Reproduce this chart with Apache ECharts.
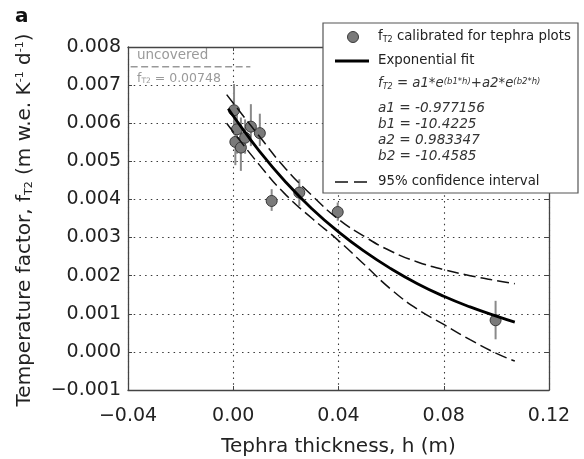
<!DOCTYPE html>
<html><head><meta charset="utf-8">
<script src="https://cdn.jsdelivr.net/npm/echarts@6/dist/echarts.min.js"></script>
<style>html,body{margin:0;padding:0;background:#fff}#c{width:584px;height:459px}</style>
</head><body><div id="c"></div>
<script>
// ---- data ----
const xTicks = [-0.04, 0.00, 0.04, 0.08, 0.12];
const yTicks = [-0.001, 0.000, 0.001, 0.002, 0.003, 0.004, 0.005, 0.006, 0.007, 0.008];

const pointH = [0.0003, 0.0008, 0.0014, 0.0029, 0.0045, 0.0067, 0.0101, 0.0146, 0.0251, 0.0397, 0.0997];
const pointV = [0.00634, 0.00551, 0.00584, 0.00536, 0.00562, 0.00591, 0.00574, 0.00396, 0.00418, 0.00367, 0.00083];
const errLow = [0.00570, 0.00490, 0.00520, 0.00475, 0.00520, 0.00540, 0.00540, 0.00370, 0.00383, 0.00344, 0.00033];
const errHigh = [0.00703, 0.00625, 0.00640, 0.00615, 0.00610, 0.00650, 0.00625, 0.00427, 0.00453, 0.00392, 0.00134];

const fitH = [-0.0019, 0.00, 0.01, 0.02, 0.03, 0.04, 0.05, 0.06, 0.07, 0.08, 0.09, 0.10, 0.107];
const fitV = [0.00638, 0.00619, 0.00526, 0.00445, 0.00375, 0.00315, 0.00263, 0.00218, 0.00179, 0.00146, 0.00118, 0.00094, 0.00078];

const bandH = [-0.0025, 0.01, 0.02, 0.03, 0.04, 0.05, 0.06, 0.07, 0.08, 0.09, 0.10, 0.107];
const upperV = [0.00675, 0.00565, 0.00480, 0.00410, 0.00348, 0.00302, 0.00264, 0.00236, 0.00216, 0.00200, 0.00187, 0.00179];
const lowerV = [0.00600, 0.00490, 0.00412, 0.00350, 0.00292, 0.00228, 0.00164, 0.00112, 0.00072, 0.00032, -0.00004, -0.00024];

const uncoveredH = [-0.039, 0.0065];
const uncoveredValue = 0.00748;

// ---- build ----
const FONT = 'DejaVu Sans';
const zip = (a, b) => a.map((v, i) => [v, b[i]]);
const minus = s => s.replace('-', '\u2212');

const chart = echarts.init(document.getElementById('c'), null, {renderer: 'canvas'});

function rs(size, extra) {
  return Object.assign({fontSize: size, fontFamily: FONT, fill: '#222', color: '#222'}, extra || {});
}

const gridLine = {show: true, lineStyle: {color: '#3a3a3a', width: 1.1, type: [1.5, 4.2]}};
const LG = 13.3;

const option = {
  animation: false,
  backgroundColor: '#fff',
  grid: {left: 128, right: 35, top: 47, bottom: 69, show: false, containLabel: false, outerBoundsMode: 'none'},
  xAxis: [{
    type: 'value', min: xTicks[0], max: xTicks[xTicks.length - 1], interval: 0.04,
    axisLine: {onZero: false, lineStyle: {color: '#444', width: 1.3}},
    axisTick: {inside: true, length: 4, lineStyle: {color: '#444'}},
    axisLabel: {fontFamily: FONT, fontSize: 19, color: '#222', margin: 17,
      formatter: v => minus(v.toFixed(2))},
    splitLine: gridLine,
    name: 'Tephra thickness, h (m)', nameLocation: 'middle', nameGap: 47,
    nameTextStyle: {fontFamily: FONT, fontSize: 20, color: '#222'}
  }, {
    type: 'value', position: 'top', min: xTicks[0], max: xTicks[xTicks.length - 1], interval: 0.04,
    axisLine: {onZero: false, lineStyle: {color: '#444', width: 1.3}},
    axisTick: {inside: true, length: 4, lineStyle: {color: '#444'}},
    axisLabel: {show: false}, splitLine: {show: false}
  }],
  yAxis: [{
    type: 'value', min: yTicks[0], max: yTicks[yTicks.length - 1], interval: 0.001,
    axisLine: {show: true, onZero: false, lineStyle: {color: '#444', width: 1.3}},
    axisTick: {show: true, inside: true, length: 4, lineStyle: {color: '#444'}},
    axisLabel: {fontFamily: FONT, fontSize: 19, color: '#222', margin: 7,
      formatter: v => minus(v.toFixed(3))},
    splitLine: gridLine
  }, {
    type: 'value', position: 'right', min: yTicks[0], max: yTicks[yTicks.length - 1], interval: 0.001,
    axisLine: {show: true, onZero: false, lineStyle: {color: '#444', width: 1.3}},
    axisTick: {show: true, inside: true, length: 4, lineStyle: {color: '#444'}},
    axisLabel: {show: false}, splitLine: {show: false}
  }],
  series: [
    {
      type: 'line', name: 'uncovered', data: uncoveredH.map(h => [h, uncoveredValue]),
      symbol: 'none', lineStyle: {color: '#999', width: 1.6, type: [7, 3.5]}, z: 3, silent: true
    },
    {
      type: 'custom', name: 'error bars',
      data: pointH.map((h, i) => [h, errLow[i], errHigh[i]]),
      encode: {x: 0, y: [1, 2]},
      renderItem: (params, api) => {
        const p1 = api.coord([api.value(0), api.value(1)]);
        const p2 = api.coord([api.value(0), api.value(2)]);
        return {type: 'line', shape: {x1: p1[0], y1: p1[1], x2: p2[0], y2: p2[1]},
          style: {stroke: '#8a8a8a', lineWidth: 2}};
      }, z: 4, silent: true
    },
    {
      type: 'scatter', name: 'fT2 calibrated for tephra plots', data: zip(pointH, pointV),
      symbol: 'circle', symbolSize: 11,
      itemStyle: {color: '#7a7a7a', borderColor: '#3a3a3a', borderWidth: 1, opacity: 1}, z: 5, silent: true
    },
    {
      type: 'line', name: 'Exponential fit', data: zip(fitH, fitV), smooth: true,
      symbol: 'none', lineStyle: {color: '#000', width: 2.8}, z: 6, silent: true
    },
    {
      type: 'line', name: '95% upper', data: zip(bandH, upperV), smooth: true,
      symbol: 'none', lineStyle: {color: '#111', width: 1.5, type: [12, 5]}, z: 6, silent: true
    },
    {
      type: 'line', name: '95% lower', data: zip(bandH, lowerV), smooth: true,
      symbol: 'none', lineStyle: {color: '#111', width: 1.5, type: [12, 5]}, z: 6, silent: true
    }
  ],
  graphic: [
    // panel letter
    {type: 'text', x: 15, y: 7, style: {text: 'a', fontFamily: FONT, fontSize: 20, fontWeight: 'bold', fill: '#111'}},
    // y axis title
    {type: 'text', x: 25, y: 220, rotation: Math.PI / 2,
      style: {text: 'Temperature factor, f{sub|T2} (m w.e. K{sup|-1} d{sup|-1})',
        fontFamily: FONT, fontSize: 20, fill: '#222', align: 'center', verticalAlign: 'middle',
        rich: {
          sub: rs(11, {verticalAlign: 'bottom', lineHeight: 11}),
          sup: rs(11, {verticalAlign: 'top', lineHeight: 11})
        }}},
    // uncovered annotation
    {type: 'text', x: 137, y: 55, style: {text: 'uncovered', fontFamily: FONT, fontSize: 13.5, fill: '#9a9a9a', verticalAlign: 'middle'}},
    {type: 'text', x: 137, y: 79, style: {text: 'f{sub|T2} = 0.00748', fontFamily: FONT, fontSize: 12.5, fill: '#9a9a9a', verticalAlign: 'middle',
      rich: {sub: {fontSize: 7.5, fontFamily: FONT, fill: '#9a9a9a', verticalAlign: 'bottom'}}}},
    // legend box
    {type: 'rect', z: 100, shape: {x: 323, y: 23, width: 255, height: 170},
      style: {fill: '#fff', stroke: '#555', lineWidth: 1.2}},
    {type: 'circle', z: 101, shape: {cx: 353, cy: 37, r: 5.5}, style: {fill: '#7a7a7a', stroke: '#3a3a3a', lineWidth: 1}},
    {type: 'text', z: 101, x: 378, y: 37, style: {text: 'f{sub|T2} calibrated for tephra plots', fontFamily: FONT, fontSize: LG, fill: '#222', verticalAlign: 'middle',
      rich: {sub: {fontSize: 8, fontFamily: FONT, fill: '#222', verticalAlign: 'bottom'}}}},
    {type: 'line', z: 101, shape: {x1: 335, y1: 61, x2: 369, y2: 61}, style: {stroke: '#000', lineWidth: 3}},
    {type: 'text', z: 101, x: 378, y: 61, style: {text: 'Exponential fit', fontFamily: FONT, fontSize: LG, fill: '#222', verticalAlign: 'middle'}},
    {type: 'text', z: 101, x: 378, y: 84, style: {text: 'f{sub|T2} = a1*e{sup|(b1*h)}+a2*e{sup|(b2*h)}', fontFamily: FONT, fontSize: LG, fontStyle: 'italic', fill: '#333', verticalAlign: 'middle',
      rich: {
        sub: {fontSize: 8, fontFamily: FONT, fontStyle: 'italic', fill: '#333', verticalAlign: 'bottom'},
        sup: {fontSize: 8.5, fontFamily: FONT, fontStyle: 'italic', fill: '#333', verticalAlign: 'top'}
      }}},
    {type: 'text', z: 101, x: 378, y: 108, style: {text: 'a1 = -0.977156', fontFamily: FONT, fontSize: 13.6, fontStyle: 'italic', fill: '#333', verticalAlign: 'middle'}},
    {type: 'text', z: 101, x: 378, y: 124, style: {text: 'b1 = -10.4225', fontFamily: FONT, fontSize: 13.6, fontStyle: 'italic', fill: '#333', verticalAlign: 'middle'}},
    {type: 'text', z: 101, x: 378, y: 140, style: {text: 'a2 = 0.983347', fontFamily: FONT, fontSize: 13.6, fontStyle: 'italic', fill: '#333', verticalAlign: 'middle'}},
    {type: 'text', z: 101, x: 378, y: 156, style: {text: 'b2 = -10.4585', fontFamily: FONT, fontSize: 13.6, fontStyle: 'italic', fill: '#333', verticalAlign: 'middle'}},
    {type: 'line', z: 101, shape: {x1: 335, y1: 182, x2: 369, y2: 182}, style: {stroke: '#111', lineWidth: 1.5, lineDash: [13, 6]}},
    {type: 'text', z: 101, x: 378, y: 182, style: {text: '95% confidence interval', fontFamily: FONT, fontSize: LG, fill: '#222', verticalAlign: 'middle'}}
  ]
};
chart.setOption(option);
</script>
</body></html>
